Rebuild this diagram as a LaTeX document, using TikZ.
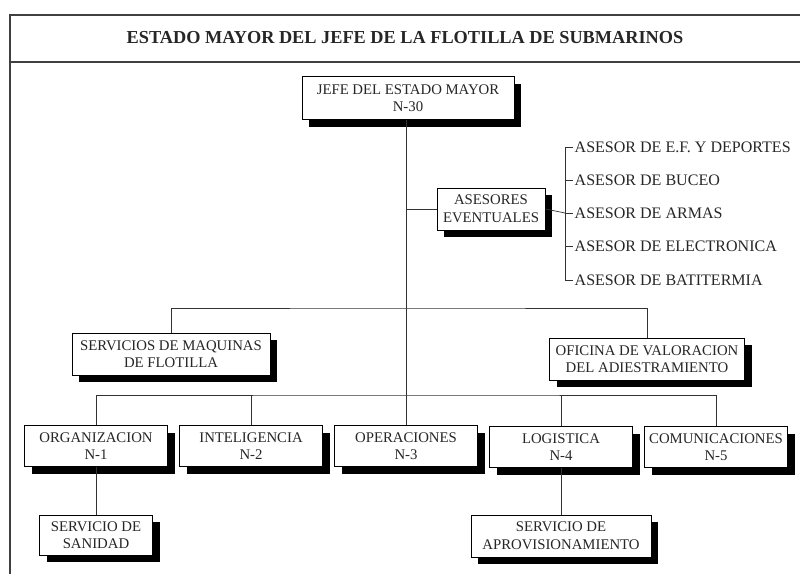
\documentclass[tikz,border=0pt]{standalone}
\usepackage{fontspec}
\setmainfont{Liberation Serif}
\usetikzlibrary{shadows}

\begin{document}
\begin{tikzpicture}[x=0.025cm, y=-0.025cm,
		orgbox/.style={draw, fill=white, line width=0.6pt, align=center, inner sep=1pt, text=black!85, font=\fontsize{10.5}{12.5}\selectfont, drop shadow={shadow xshift=0.18cm, shadow yshift=-0.18cm, fill=black, opacity=1}},
		link/.style={line width=0.5pt, draw=black!80},
		frameline/.style={line width=1.1pt, draw=black!75},
		advisor/.style={anchor=west, inner sep=1pt, text=black!85, font=\fontsize{11.4}{13}\selectfont}
	]
		\useasboundingbox (0,0) rectangle (800,578);

		\draw[frameline] (800,15) -- (10,15) -- (10,574);
		\draw[frameline] (10,62) -- (800,62);
		\node[font=\fontsize{13}{15}\selectfont\bfseries, text=black!85] (titulo) at (405,38) {ESTADO MAYOR DEL JEFE DE LA FLOTILLA DE SUBMARINOS};

		\node[orgbox, minimum width=5.3cm, minimum height=1.08cm] (jefe) at (408,98) {JEFE DEL ESTADO MAYOR\\N-30};

		\node[orgbox, minimum width=2.7cm, minimum height=1.05cm] (asesores) at (491,209) {ASESORES\\EVENTUALES};
		\node[advisor] (a1) at (573,147) {ASESOR DE E.F. Y DEPORTES};
		\node[advisor] (a2) at (573,180) {ASESOR DE BUCEO};
		\node[advisor] (a3) at (573,213) {ASESOR DE ARMAS};
		\node[advisor] (a4) at (573,246) {ASESOR DE ELECTRONICA};
		\node[advisor] (a5) at (573,280) {ASESOR DE BATITERMIA};
		\coordinate (brk) at (565,213);

		\node[orgbox, minimum width=4.95cm, minimum height=1.05cm] (serv) at (171,354) {SERVICIOS DE MAQUINAS\\DE FLOTILLA};
		\node[orgbox, minimum width=4.88cm, minimum height=1.05cm] (ofi) at (647,359) {OFICINA DE VALORACION\\DEL ADIESTRAMIENTO};
		\coordinate (bar1) at (406,308);
		\coordinate (bar2) at (406,395);

		\node[orgbox, minimum width=3.58cm, minimum height=1.03cm] (org) at (96,446) {ORGANIZACION\\N-1};
		\node[orgbox, minimum width=3.58cm, minimum height=1.03cm] (intel) at (251,446) {INTELIGENCIA\\N-2};
		\node[orgbox, minimum width=3.58cm, minimum height=1.03cm] (ope) at (406,446) {OPERACIONES\\N-3};
		\node[orgbox, minimum width=3.58cm, minimum height=1.03cm] (log) at (561,447) {LOGISTICA\\N-4};
		\node[orgbox, minimum width=3.58cm, minimum height=1.03cm] (com) at (716,447) {COMUNICACIONES\\N-5};

		\node[orgbox, minimum width=2.83cm, minimum height=1.0cm] (san) at (96,535) {SERVICIO DE\\SANIDAD};
		\node[orgbox, minimum width=4.5cm, minimum height=1.05cm] (apro) at (561,536) {SERVICIO DE\\APROVISIONAMIENTO};

		\draw[link] (jefe.south -| ope.north) -- (ope.north);
		\draw[link] (asesores.west -| ope.north) -- (asesores.west);
		\draw[link] (asesores.east) -- (brk);
		\draw[link] (brk |- a1.west) -- (brk |- a5.west);
		\draw[link] (brk |- a1.west) -- (a1.west);
		\draw[link] (brk |- a2.west) -- (a2.west);
		\draw[link] (brk |- a3.west) -- (a3.west);
		\draw[link] (brk |- a4.west) -- (a4.west);
		\draw[link] (brk |- a5.west) -- (a5.west);

		\draw[link] (serv.north) |- (bar1) -| (ofi.north);
		\draw[link] (org.north) |- (bar2) -| (com.north);
		\draw[link] (intel.north) -- (intel.north |- bar2);
		\draw[link] (log.north) -- (log.north |- bar2);
		\draw[link] (org.south) -- (san.north);
		\draw[link] (log.south) -- (apro.north);
	\end{tikzpicture}
\end{document}
